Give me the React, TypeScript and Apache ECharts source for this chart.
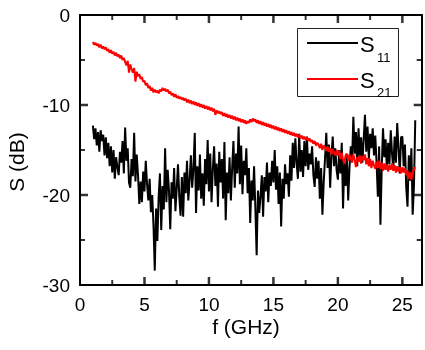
import React, { useEffect, useRef } from "react";
import * as echarts from "echarts";

// frequency sweep grid (GHz)
const FREQ_START = 1.0;
const FREQ_STEP = 0.1;

// S11 (dB), one value per sweep point, rows = 1 GHz each
const S11 = [
  -12.3, -13.8, -12.6, -14.5, -13.0, -15.2, -12.8, -14.0, -13.3, -15.6,
  -13.6, -15.9, -14.2, -16.8, -14.6, -17.5, -15.0, -18.2, -15.8, -16.9,
  -17.8, -15.2, -16.4, -14.0, -17.6, -12.5, -16.2, -14.8, -18.6, -19.2,
  -16.0, -17.9, -13.1, -18.5, -15.5, -17.8, -21.0, -18.5, -20.8, -17.4,
  -19.6, -16.2, -18.8, -20.6, -18.2, -21.9, -20.0, -23.4, -28.4, -21.5,
  -25.1, -20.2, -17.6, -23.9, -19.0, -21.6, -14.8, -20.8, -17.2, -19.5,
  -23.8, -18.6, -20.4, -17.0, -21.8, -19.3, -16.6, -20.2, -22.3, -18.0,
  -22.4, -17.5, -19.8, -16.2, -20.6, -18.4, -15.6, -19.2, -17.0, -13.1,
  -22.0, -16.8, -19.5, -15.5, -20.4, -17.6, -21.2, -16.0, -18.8, -13.9,
  -19.6, -15.4, -20.8, -17.2, -14.6, -19.0, -16.5, -21.3, -15.2, -18.6,
  -16.0, -20.4, -14.1, -22.8, -17.5, -19.8, -15.8, -20.6, -17.0, -14.0,
  -19.2, -15.4, -17.6, -12.4, -18.8, -14.5, -19.9, -16.2, -17.8, -14.8,
  -19.8, -17.0, -23.1, -18.4, -20.6, -16.8, -21.5, -26.7, -19.5, -22.0,
  -20.1, -17.8, -22.4, -18.0, -19.6, -16.4, -20.8, -17.5, -19.0, -16.2,
  -18.6, -15.0, -19.4, -16.8, -21.0, -17.5, -23.5, -18.2, -20.4, -16.6,
  -18.8, -17.6, -20.2, -15.6, -18.4, -14.2, -17.0, -13.7, -16.5, -18.2,
  -13.2, -17.4, -15.0, -18.0, -14.0, -16.8, -13.5, -17.2, -15.4, -16.6,
  -14.6, -17.8, -19.1, -15.8, -18.2, -16.2, -20.4, -17.0, -22.2, -18.6,
  -16.0, -13.1, -17.0, -14.4, -19.2, -15.6, -13.5, -16.8, -14.8, -17.2,
  -18.3, -15.0, -17.6, -14.2, -21.5, -16.4, -19.0, -15.6, -20.6, -17.0,
  -14.6, -16.2, -11.3, -15.4, -13.0, -16.8, -12.6, -15.8, -13.6, -16.4,
  -13.8, -11.1, -15.2, -12.4, -16.0, -13.2, -14.8, -12.6, -15.6, -13.4,
  -16.4, -20.2, -14.6, -23.3, -17.0, -12.6, -15.8, -13.8, -17.2, -14.2,
  -16.6, -12.8, -15.4, -17.2, -13.5, -16.4, -12.0, -14.8, -17.6, -13.6,
  -13.5, -16.8, -14.4, -19.2, -21.3, -15.6, -18.4, -14.8, -22.2, -19.0,
  -11.7,
];

// S21 (dB)
const S21 = [
  -3.0, -3.3, -3.1, -3.4, -3.2, -3.6, -3.3, -3.7, -3.5, -3.8,
  -3.6, -4.0, -3.8, -4.2, -3.9, -4.3, -4.1, -4.5, -4.2, -4.6,
  -4.4, -4.8, -4.5, -5.0, -4.8, -5.2, -5.6, -5.1, -6.4, -5.5,
  -6.0, -6.4, -5.9, -7.4, -6.3, -6.8, -6.6, -7.1, -6.9, -7.4,
  -7.3, -7.8, -7.6, -8.1, -7.9, -8.4, -8.1, -8.6, -8.3, -8.6,
  -8.4, -8.7, -8.3, -8.5, -8.1, -8.4, -8.2, -8.5, -8.3, -8.7,
  -8.5, -8.9, -8.7, -9.1, -8.8, -9.2, -9.0, -9.3, -9.1, -9.4,
  -9.2, -9.5, -9.3, -9.7, -9.4, -9.8, -9.5, -9.9, -9.6, -10.0,
  -9.7, -10.1, -9.8, -10.2, -9.9, -10.3, -10.0, -10.4, -10.1, -10.5,
  -10.2, -10.6, -10.3, -10.7, -10.4, -11.1, -10.6, -10.9, -10.7, -11.0,
  -10.8, -11.2, -10.9, -11.3, -11.0, -11.4, -11.1, -11.5, -11.2, -11.6,
  -11.3, -11.7, -11.4, -11.8, -11.5, -11.9, -11.6, -12.0, -11.7, -12.1,
  -11.8, -12.0, -11.6, -11.9, -11.5, -11.8, -11.6, -12.0, -11.7, -12.1,
  -11.8, -12.2, -11.9, -12.3, -12.0, -12.4, -12.1, -12.5, -12.2, -12.6,
  -12.3, -12.7, -12.4, -12.8, -12.5, -12.9, -12.6, -13.0, -12.7, -13.1,
  -12.8, -13.2, -12.9, -13.3, -13.0, -13.4, -13.1, -13.5, -13.2, -13.6,
  -13.3, -13.7, -13.4, -13.8, -13.5, -13.9, -13.6, -14.0, -13.7, -14.1,
  -13.9, -14.3, -14.0, -14.5, -14.2, -14.4, -14.8, -14.3, -15.0, -14.5,
  -14.7, -15.1, -14.6, -15.2, -14.8, -15.5, -14.9, -15.3, -15.6, -15.0,
  -15.6, -15.1, -16.0, -15.3, -16.1, -16.5, -15.6, -15.4, -16.2, -15.5,
  -15.9, -16.4, -15.5, -16.1, -16.9, -15.8, -16.3, -15.6, -16.5, -15.7,
  -16.1, -15.5, -16.6, -15.9, -16.8, -16.0, -17.0, -16.2, -16.7, -17.1,
  -16.3, -17.0, -16.2, -17.1, -16.4, -17.3, -16.5, -17.2, -16.6, -17.4,
  -16.7, -17.2, -16.5, -17.3, -16.7, -17.5, -16.8, -17.4, -16.9, -17.6,
  -16.9, -17.5, -17.0, -17.8, -17.3, -18.2, -17.5, -18.3, -17.4, -17.2,
  -16.9,
];

const X_MIN = 0;
const X_MAX = 26.5;
const Y_MIN = -30;
const Y_MAX = 0;

// tick positions (drawn inward on all four sides)
const X_MAJOR_TICKS = [5, 10, 15, 20, 25];
const X_MINOR_TICKS = [2.5, 7.5, 12.5, 17.5, 22.5];
const Y_MAJOR_TICKS = [-20, -10];
const Y_MINOR_TICKS = [-25, -15, -5];

const FONT = "Liberation Sans, Arial, sans-serif";

function toPairs(vals: number[]) {
  return vals.map((v, i) => [+(FREQ_START + i * FREQ_STEP).toFixed(2), v]);
}

function xTicks(vals: number[], len: number, w: number) {
  const out: any[] = [];
  vals.forEach((v) => {
    out.push({ value: [v, Y_MIN], symbolSize: [w, len], symbolOffset: [0, -len / 2] });
    out.push({ value: [v, Y_MAX], symbolSize: [w, len], symbolOffset: [0, len / 2] });
  });
  return out;
}
function yTicks(vals: number[], len: number, w: number) {
  const out: any[] = [];
  vals.forEach((v) => {
    out.push({ value: [X_MIN, v], symbolSize: [len, w], symbolOffset: [len / 2, 0] });
    out.push({ value: [X_MAX, v], symbolSize: [len, w], symbolOffset: [-len / 2, 0] });
  });
  return out;
}

export default function App() {
  const ref = useRef<HTMLDivElement>(null);
  useEffect(() => {
    if (!ref.current) return;
    const chart = echarts.init(ref.current, null, { renderer: "svg" });
    const axisLine = { show: true, onZero: false, lineStyle: { color: "#000", width: 2 } };
    const label = { color: "#000", fontSize: 19, fontFamily: FONT, margin: 10 };
    const xBase = { type: "value", min: X_MIN, max: X_MAX, interval: 5, splitLine: { show: false }, axisTick: { show: false } };
    const yBase = { type: "value", min: Y_MIN, max: Y_MAX, interval: 10, splitLine: { show: false }, axisTick: { show: false } };

    const tickData = [
      ...xTicks(X_MAJOR_TICKS, 8, 2.5),
      ...xTicks(X_MINOR_TICKS, 5, 2),
      ...yTicks(Y_MAJOR_TICKS, 8, 2.5),
      ...yTicks(Y_MINOR_TICKS, 5, 2),
    ];

    chart.setOption({
      animation: false,
      grid: { left: 80, right: 3.3, top: 15, bottom: 65 },
      xAxis: [
        { ...xBase, position: "bottom", axisLine, axisLabel: { ...label, showMaxLabel: false } },
        { ...xBase, position: "top", axisLine, axisLabel: { show: false } },
      ],
      yAxis: [
        { ...yBase, position: "left", axisLine, axisLabel: label },
        { ...yBase, position: "right", axisLine, axisLabel: { show: false } },
      ],
      series: [
        {
          type: "line",
          showSymbol: false,
          data: toPairs(S11),
          lineStyle: { color: "#000", width: 2 },
          itemStyle: { color: "#000" },
        },
        {
          type: "line",
          showSymbol: false,
          data: toPairs(S21),
          lineStyle: { color: "#ff0000", width: 2 },
          itemStyle: { color: "#ff0000" },
        },
        {
          type: "scatter",
          symbol: "rect",
          clip: false,
          itemStyle: { color: "#000" },
          data: tickData,
        },
      ],
      graphic: [
        {
          type: "text",
          x: 246,
          y: 326,
          style: { text: "f (GHz)", fill: "#000", fontSize: 21, fontFamily: FONT, align: "center", verticalAlign: "middle" },
        },
        {
          type: "text",
          x: 16,
          y: 162,
          rotation: Math.PI / 2,
          style: { text: "S (dB)", fill: "#000", fontSize: 21, fontFamily: FONT, align: "center", verticalAlign: "middle" },
        },
        {
          type: "rect",
          shape: { x: 297.5, y: 28.5, width: 101, height: 68 },
          style: { fill: "#fff", stroke: "#222", lineWidth: 1 },
          z: 10,
        },
        {
          type: "line",
          shape: { x1: 307, y1: 43, x2: 358, y2: 43 },
          style: { stroke: "#000", lineWidth: 2 },
          z: 11,
        },
        {
          type: "line",
          shape: { x1: 307, y1: 79, x2: 358, y2: 79 },
          style: { stroke: "#ff0000", lineWidth: 2 },
          z: 11,
        },
        {
          type: "text",
          x: 360,
          y: 44,
          style: { text: "S", fill: "#000", fontSize: 22, fontFamily: FONT, align: "left", verticalAlign: "middle" },
          z: 11,
        },
        {
          type: "text",
          x: 377,
          y: 57,
          style: { text: "11", fill: "#000", fontSize: 13, fontFamily: FONT, align: "left", verticalAlign: "middle" },
          z: 11,
        },
        {
          type: "text",
          x: 360,
          y: 80,
          style: { text: "S", fill: "#000", fontSize: 22, fontFamily: FONT, align: "left", verticalAlign: "middle" },
          z: 11,
        },
        {
          type: "text",
          x: 377,
          y: 92,
          style: { text: "21", fill: "#000", fontSize: 13, fontFamily: FONT, align: "left", verticalAlign: "middle" },
          z: 11,
        },
      ],
    });
    return () => chart.dispose();
  }, []);
  return <div ref={ref} style={{ position: "fixed", left: 0, top: 0, width: 425, height: 350 }} />;
}
